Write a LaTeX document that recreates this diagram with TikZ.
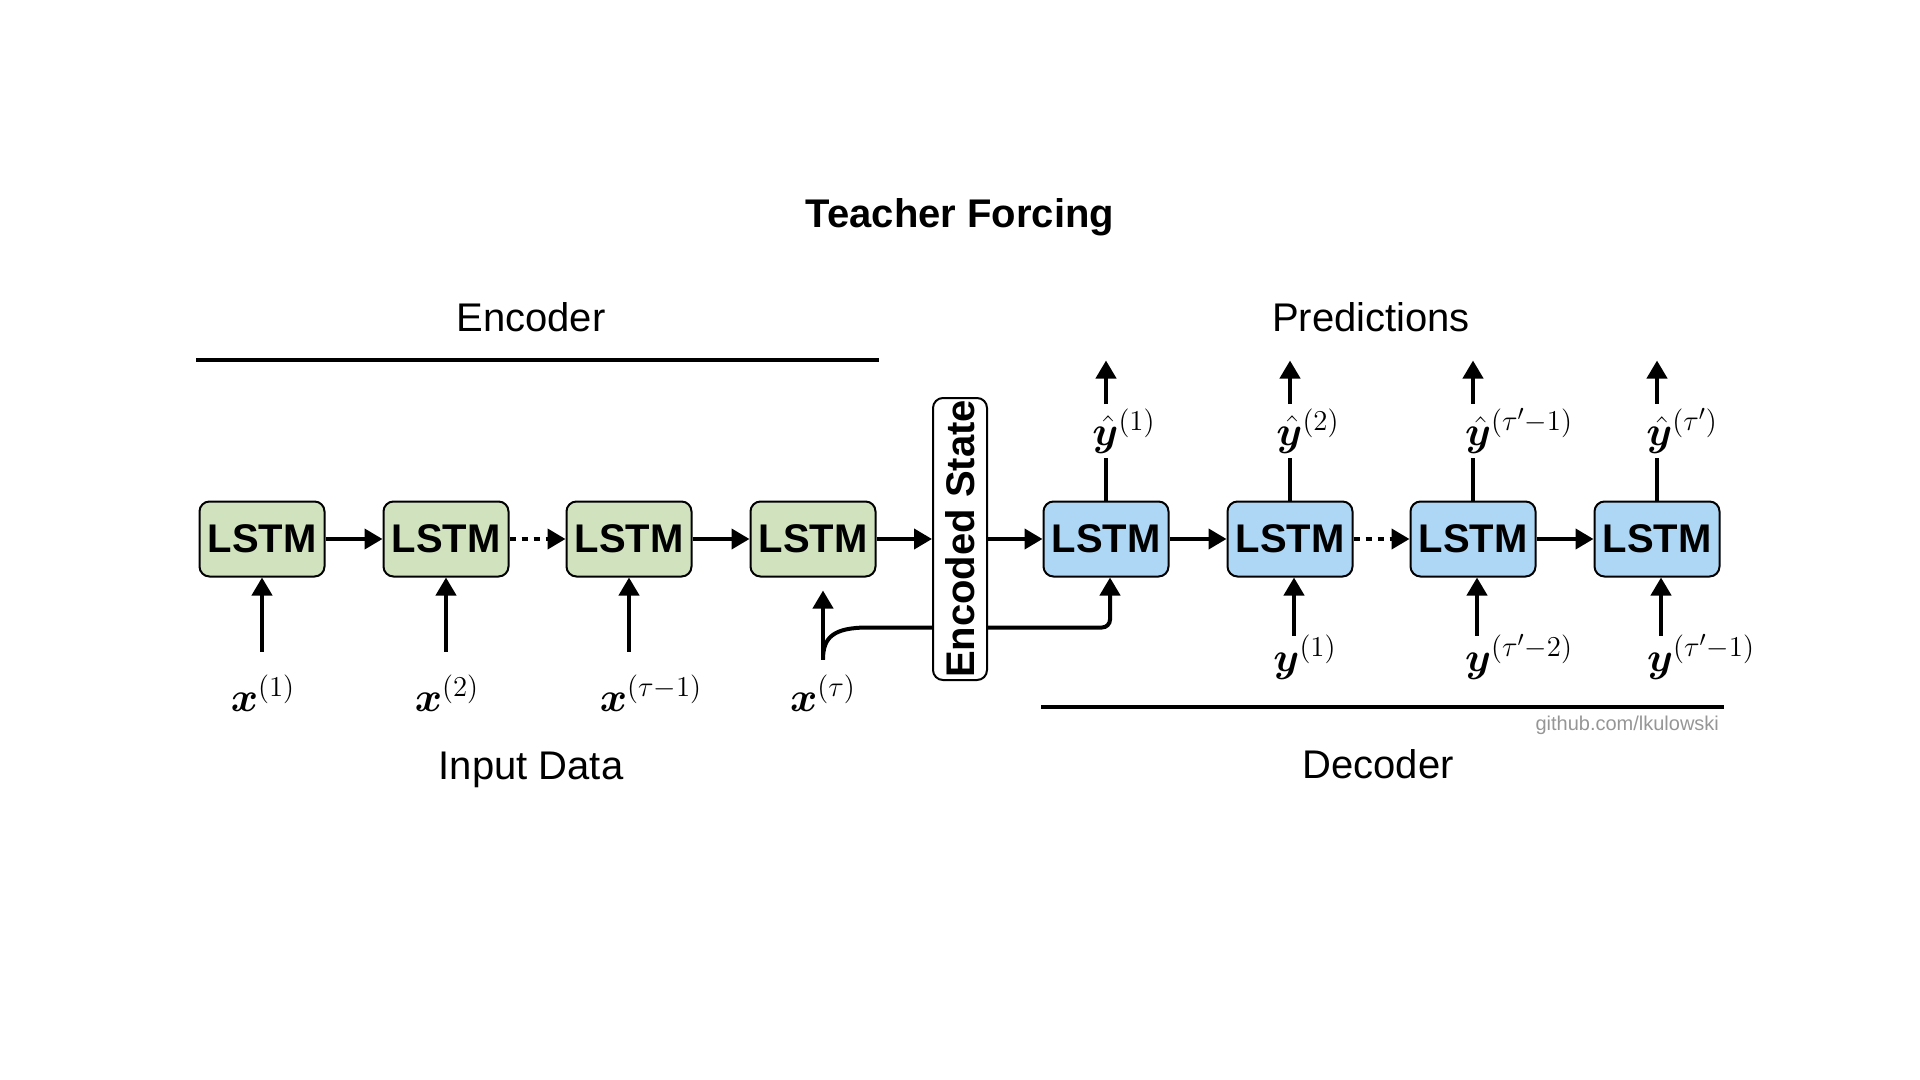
\documentclass[tikz,border=0pt]{standalone}
\usepackage{fontspec}
\setsansfont{Liberation Sans}
\usepackage{amsmath,bm}
\usetikzlibrary{arrows.meta,calc}
\definecolor{encgreen}{RGB}{208,226,190}
\definecolor{decblue}{RGB}{174,214,245}
\definecolor{credgray}{RGB}{150,150,150}
\begin{document}
\begin{tikzpicture}[x=0.5pt,y=-0.5pt,
  lstmbox/.style={draw=black,line width=1pt,rounded corners=5pt,minimum width=62.5pt,minimum height=37.5pt,inner sep=0pt,font=\sffamily\bfseries\fontsize{20}{24}\selectfont},
  encbox/.style={lstmbox,fill=encgreen},
  decbox/.style={lstmbox,fill=decblue},
  statebox/.style={draw=black,fill=white,line width=1pt,rounded corners=5pt,rotate=90,minimum width=141pt,minimum height=27pt,inner sep=0pt,font=\sffamily\bfseries\fontsize{20}{24}\selectfont},
  conn/.style={line width=2pt,-{Triangle[length=9pt,width=10pt]}},
  plainconn/.style={line width=2pt},
  dotconn/.style={conn,dash pattern=on 3pt off 3pt},
  lbl/.style={font=\fontsize{22}{26}\selectfont,inner sep=2pt},
  head/.style={font=\sffamily\fontsize{20}{24}\selectfont},
  rule/.style={line width=2pt}]
\path[use as bounding box] (0,0) rectangle (1920,1080);

% headings
\node[head,font=\sffamily\bfseries\fontsize{20}{24}\selectfont] (title) at (960,217) {Teacher Forcing};
\node[head] (enclbl) at (531,317) {Encoder};
\node[head] (predlbl) at (1371,317) {Predictions};
\node[head] (inlbl) at (531,770) {Input Data};
\node[head] (declbl) at (1378,764) {Decoder};
\node[anchor=east,font=\sffamily\fontsize{10}{12}\selectfont,text=credgray] (credit) at (1726,725) {github.com/lkulowski};
\draw[rule] (196,360) -- (879,360);
\draw[rule] (1041,707) -- (1724,707);

% encoder
\node[encbox] (e1) at (262,539) {LSTM};
\node[encbox] (e2) at (446,539) {LSTM};
\node[encbox] (e3) at (629,539) {LSTM};
\node[encbox] (e4) at (813,539) {LSTM};

% decoder
\node[decbox] (d1) at (1106,539) {LSTM};
\node[decbox] (d2) at (1290,539) {LSTM};
\node[decbox] (d3) at (1473,539) {LSTM};
\node[decbox] (d4) at (1657,539) {LSTM};

% teacher-forcing path from x^(tau), behind the encoded state
\coordinate (xs) at ($(e4.south)+(10,82)$);
\draw[conn] (xs) -- ($(e4.south)+(10,13)$);
\draw[conn] (xs) .. controls ($(xs)+(0,-22)$) and ($(xs)+(10,-32)$) .. ($(xs)+(45,-32)$)
  [rounded corners=4pt] -- ($(d1.south)+(4,50)$) -- ($(d1.south)+(4,0)$);

\node[statebox] (enc) at (960,539) {Encoded State};

% horizontal connectors
\draw[conn] (e1.east) -- (e2.west);
\draw[dotconn] (e2.east) -- (e3.west);
\draw[conn] (e3.east) -- (e4.west);
\draw[conn] (e4.east) -- (enc.north);
\draw[conn] (enc.south) -- (d1.west);
\draw[conn] (d1.east) -- (d2.west);
\draw[dotconn] (d2.east) -- (d3.west);
\draw[conn] (d3.east) -- (d4.west);

% encoder inputs
\node[lbl] (x1) at (263,693) {$\bm{x}^{(1)}$};
\node[lbl] (x2) at (447,693) {$\bm{x}^{(2)}$};
\node[lbl] (x3) at (651,693) {$\bm{x}^{(\tau-1)}$};
\node[lbl] (x4) at (823,693) {$\bm{x}^{(\tau)}$};
\draw[conn] ($(e1.south)+(0,74)$) -- (e1.south);
\draw[conn] ($(e2.south)+(0,74)$) -- (e2.south);
\draw[conn] ($(e3.south)+(0,74)$) -- (e3.south);

% decoder inputs
\node[lbl] (y1) at (1305,657) {$\bm{y}^{(1)}$};
\node[lbl] (y2) at (1519,657) {$\bm{y}^{(\tau'-2)}$};
\node[lbl] (y3) at (1701,657) {$\bm{y}^{(\tau'-1)}$};
\draw[conn] ($(d2.south)+(4,58)$) -- ($(d2.south)+(4,0)$);
\draw[conn] ($(d3.south)+(4,58)$) -- ($(d3.south)+(4,0)$);
\draw[conn] ($(d4.south)+(4,58)$) -- ($(d4.south)+(4,0)$);

% decoder outputs
\node[lbl] (yh1) at (1124,431) {$\bm{\hat{y}}^{(1)}$};
\node[lbl] (yh2) at (1308,431) {$\bm{\hat{y}}^{(2)}$};
\node[lbl] (yh3) at (1519,431) {$\bm{\hat{y}}^{(\tau'-1)}$};
\node[lbl] (yh4) at (1682,431) {$\bm{\hat{y}}^{(\tau')}$};
\draw[plainconn] (d1.north) -- (d1.north |- yh1.south);
\draw[plainconn] (d2.north) -- (d2.north |- yh2.south);
\draw[plainconn] (d3.north) -- (d3.north |- yh3.south);
\draw[plainconn] (d4.north) -- (d4.north |- yh4.south);
\draw[conn] (d1.north |- yh1.north) -- ($(d1.north)+(0,-140)$);
\draw[conn] (d2.north |- yh2.north) -- ($(d2.north)+(0,-140)$);
\draw[conn] (d3.north |- yh3.north) -- ($(d3.north)+(0,-140)$);
\draw[conn] (d4.north |- yh4.north) -- ($(d4.north)+(0,-140)$);
\end{tikzpicture}
\end{document}
